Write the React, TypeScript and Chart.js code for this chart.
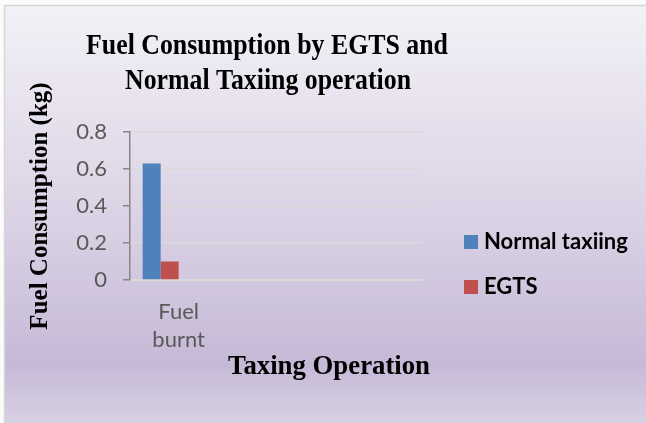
import React, { useEffect, useRef } from "react";
import { Chart, registerables } from "chart.js";

Chart.register(...registerables);

// ---- data ----
const categories: (string | string[])[] = [["Fuel", "burnt"], "", ""];
const normalTaxiing: (number | null)[] = [0.63, null, null];
const egts: (number | null)[] = [0.1, null, null];
const emptySeries3: (number | null)[] = [null, null, null];
const emptySeries4: (number | null)[] = [null, null, null];
const seriesNames = ["Normal taxiing", "EGTS"];
const seriesColors = ["#4F81BD", "#C0504D"];
const yTicks = [0, 0.2, 0.4, 0.6, 0.8];
const chartTitle = ["Fuel Consumption by EGTS and", "Normal Taxiing operation"];
const xTitle = "Taxing Operation";
const yTitle = "Fuel Consumption (kg)";

const SANS = "Lato, 'Open Sans', sans-serif";
const SERIF = "'Liberation Serif', 'Times New Roman', serif";

const backgroundPlugin = {
  id: "bgPlugin",
  beforeDraw(chart: any) {
    const { ctx, width, height } = chart;
    ctx.save();
    ctx.fillStyle = "#fbfbfb";
    ctx.fillRect(0, 0, width, height);
    const g = ctx.createLinearGradient(0, 5, 0, height);
    g.addColorStop(0, "rgb(243,241,247)");
    g.addColorStop(0.5, "rgb(219,211,229)");
    g.addColorStop(0.86, "rgb(198,185,215)");
    g.addColorStop(1, "rgb(216,208,227)");
    ctx.fillStyle = g;
    ctx.fillRect(5, 6, width - 5, height - 6);
    ctx.strokeStyle = "#d6d6d6";
    ctx.lineWidth = 1.5;
    ctx.beginPath();
    ctx.moveTo(4.5, height);
    ctx.lineTo(4.5, 5.5);
    ctx.lineTo(width, 5.5);
    ctx.stroke();
    ctx.restore();
  },
};

function condensedText(ctx: any, text: string, cx: number, base: number, size: number, targetWidth: number) {
  ctx.save();
  ctx.font = `bold ${size}px ${SERIF}`;
  const w = ctx.measureText(text).width;
  const sx = Math.min(1, targetWidth / w);
  ctx.translate(cx, base);
  ctx.scale(sx, 1);
  ctx.textAlign = "center";
  ctx.textBaseline = "alphabetic";
  ctx.fillStyle = "#000";
  ctx.fillText(text, 0, 0);
  ctx.restore();
}

const textPlugin = {
  id: "textPlugin",
  afterDraw(chart: any) {
    const { ctx } = chart;
    ctx.save();
    // main title
    condensedText(ctx, chartTitle[0], 267, 54, 30, 362);
    condensedText(ctx, chartTitle[1], 268, 89, 30, 286);
    // x axis title
    condensedText(ctx, xTitle, 329, 374, 27, 202);
    // legend
    ctx.textAlign = "left";
    ctx.textBaseline = "alphabetic";
    ctx.font = `bold 22px ${SANS}`;
    const rows = [249, 294];
    seriesNames.forEach((name, i) => {
      const base = rows[i];
      ctx.fillStyle = seriesColors[i];
      ctx.fillRect(464, base - 14, 14, 14);
      ctx.fillStyle = "#000";
      ctx.fillText(name, 484, base);
    });
    ctx.restore();
  },
};

export default function App() {
  const canvasRef = useRef<HTMLCanvasElement | null>(null);

  useEffect(() => {
    if (!canvasRef.current) return;
    const chart = new Chart(canvasRef.current, {
      type: "bar",
      data: {
        labels: categories,
        datasets: [
          { label: seriesNames[0], data: normalTaxiing, backgroundColor: seriesColors[0] },
          { label: seriesNames[1], data: egts, backgroundColor: seriesColors[1] },
          { label: "", data: emptySeries3, backgroundColor: "transparent" },
          { label: "", data: emptySeries4, backgroundColor: "transparent" },
        ],
      },
      options: {
        animation: false,
        responsive: false,
        devicePixelRatio: 1,
        layout: { padding: { top: 132, left: 0, right: 224, bottom: 0 } },
        datasets: { bar: { categoryPercentage: 0.74, barPercentage: 1.0 } },
        plugins: {
          legend: { display: false },
          title: { display: false },
          tooltip: { enabled: false },
        },
        scales: {
          x: {
            grid: { display: false, drawTicks: false },
            border: { display: true, color: "#d9d9d9", width: 2 },
            ticks: {
              color: "#595959",
              font: { family: SANS, size: 22, lineHeight: 1.27 },
              padding: 18,
              autoSkip: false,
              maxRotation: 0,
            },
            afterFit: (s: any) => {
              s.height = 143;
            },
          },
          y: {
            min: 0,
            max: 0.8,
            grid: {
              color: "#d9d9d9",
              lineWidth: 1.5,
              tickColor: "#868686",
              tickLength: 7,
              drawTicks: true,
            },
            border: { display: true, color: "#868686", width: 1.5 },
            ticks: {
              color: "#595959",
              font: { family: SANS, size: 22 },
              padding: 16,
            },
            afterBuildTicks: (s: any) => {
              s.ticks = yTicks.map((v) => ({ value: v }));
            },
            title: {
              display: true,
              text: yTitle,
              color: "#000",
              font: { family: SERIF, size: 25, weight: "bold" },
              padding: { top: 26, bottom: 0 },
            },
            afterFit: (s: any) => {
              s.width = 130;
            },
          },
        },
      },
      plugins: [backgroundPlugin, textPlugin],
    });
    return () => chart.destroy();
  }, []);

  return (
    <div style={{ position: "fixed", left: 0, top: 0, width: 646, height: 423 }}>
      <canvas ref={canvasRef} width={646} height={423} style={{ display: "block" }} />
    </div>
  );
}
